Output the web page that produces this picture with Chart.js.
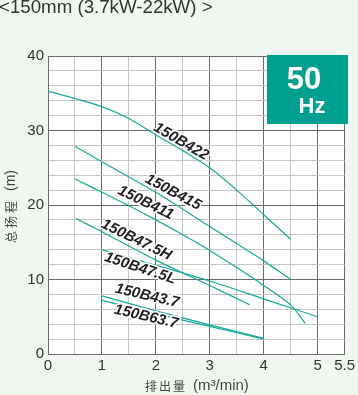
<!DOCTYPE html>
<html>
<head>
<meta charset="utf-8">
<script src="https://cdn.jsdelivr.net/npm/chart.js@4/dist/chart.umd.min.js"></script>
<style>
  html, body { margin: 0; padding: 0; background: #f1f7f0; }
  #wrap { width: 358px; height: 395px; }
</style>
</head>
<body>
<div id="wrap"><canvas id="pumpChart" width="358" height="395"></canvas></div>
<script>
// pump curves, flow (m3/min) vs total head (m)
const modelNames = ['150B422', '150B415', '150B411', '150B47.5H', '150B47.5L', '150B43.7', '150B63.7'];

const flow422 = [0, 0.5, 1, 1.5, 2, 2.5, 3, 3.5, 4, 4.5];
const head422 = [35.3, 34.3, 33.2, 31.6, 29.4, 27.3, 25.0, 22.0, 18.7, 15.4];

const flow415 = [0.5, 1, 2, 3, 4, 4.5];
const head415 = [27.9, 25.8, 21.7, 17.1, 12.5, 10.0];

const flow411 = [0.5, 1, 1.5, 2, 2.5, 3, 3.5, 4, 4.5, 4.77];
const head411 = [23.5, 21.7, 19.9, 18.0, 16.0, 13.9, 11.6, 9.2, 6.6, 4.1];

const flow475H = [0.52, 1, 2, 3, 3.74];
const head475H = [18.2, 16.4, 12.6, 9.2, 6.6];

const flow475L = [1, 2, 3, 4, 4.58, 5];
const head475L = [14.0, 11.9, 9.8, 7.4, 6.0, 5.0];

const flow437 = [1, 2, 3, 4];
const head437 = [7.8, 5.8, 3.9, 2.1];

const flow637 = [1, 2, 3, 4];
const head637 = [7.2, 5.4, 3.7, 2.0];

const xTickLabels = [0, 1, 2, 3, 4, 5, 5.5];
const yTickLabels = [0, 10, 20, 30, 40];

// where each model name sits (data coords) and its tilt in degrees
const labelX = [2.47, 2.32, 1.81, 1.64, 1.71, 1.84, 1.82];
const labelY = [28.5, 21.7, 20.3, 15.3, 11.5, 7.8, 5.0];
const labelAngle = [30, 28, 26, 26, 18, 13, 13];

const flows = [flow422, flow415, flow411, flow475H, flow475L, flow437, flow637];
const heads = [head422, head415, head411, head475H, head475L, head437, head637];

const curveColor = '#1aa99b';
const majorGrid = '#6a6a6a';
const minorGrid = '#c6c6c6';

const datasets = modelNames.map((name, i) => ({
    label: name,
    data: flows[i].map((x, j) => ({ x: x, y: heads[i][j] })),
    borderColor: curveColor,
    borderWidth: 1.2,
    pointRadius: 0,
    tension: 0.3,
    fill: false
}));

const decorPlugin = {
    id: 'decor',
    beforeDraw(chart) {
        const ctx = chart.ctx;
        const a = chart.chartArea;
        ctx.save();
        ctx.fillStyle = '#f1f7f0';
        ctx.fillRect(0, 0, chart.width, chart.height);
        ctx.fillStyle = '#ffffff';
        ctx.fillRect(a.left, a.top, a.right - a.left, a.bottom - a.top);
        ctx.restore();
    },
    afterDatasetsDraw(chart) {
        const ctx = chart.ctx;
        const xs = chart.scales.x, ys = chart.scales.y;
        const a = chart.chartArea;
        ctx.save();

        // model name labels with a white halo
        ctx.font = 'italic bold 15px "Liberation Sans", Arial, sans-serif';
        ctx.textAlign = 'center';
        ctx.textBaseline = 'middle';
        modelNames.forEach((name, i) => {
            const px = xs.getPixelForValue(labelX[i]);
            const py = ys.getPixelForValue(labelY[i]);
            ctx.save();
            ctx.translate(px, py);
            ctx.rotate(labelAngle[i] * Math.PI / 180);
            ctx.lineWidth = 3;
            ctx.strokeStyle = '#ffffff';
            ctx.lineJoin = 'round';
            ctx.strokeText(name, 0, 0);
            ctx.fillStyle = '#231f20';
            ctx.fillText(name, 0, 0);
            ctx.restore();
        });

        // 50 Hz badge
        ctx.fillStyle = '#00a091';
        ctx.fillRect(267, a.top - 1, 81, 69);
        ctx.fillStyle = '#ffffff';
        ctx.font = 'bold 31px "Liberation Sans", Arial, sans-serif';
        ctx.fillText('50', 304, 80);
        ctx.font = 'bold 22px "Liberation Sans", Arial, sans-serif';
        ctx.fillText('Hz', 312, 107);

        // heading
        ctx.fillStyle = '#333333';
        ctx.textAlign = 'left';
        ctx.textBaseline = 'alphabetic';
        ctx.font = '18.7px "Liberation Sans", Arial, sans-serif';
        ctx.fillText('<150mm (3.7kW-22kW) >', -1, 13);

        // x axis title
        ctx.fillStyle = '#444444';
        ctx.textBaseline = 'middle';
        ctx.font = '12px "Noto Sans CJK SC", sans-serif';
        ctx.letterSpacing = '2px';
        ctx.fillText('排出量', 145, 386);
        ctx.letterSpacing = '0px';
        ctx.font = '15px "Liberation Sans", Arial, sans-serif';
        ctx.fillText('(m³/min)', 193, 386);

        // y axis title
        ctx.translate(11, 243);
        ctx.rotate(-Math.PI / 2);
        ctx.font = '12px "Noto Sans CJK SC", sans-serif';
        ctx.letterSpacing = '3px';
        ctx.fillText('总扬程', 0, 0);
        ctx.letterSpacing = '0px';
        ctx.font = '14px "Liberation Sans", Arial, sans-serif';
        ctx.fillText('(m)', 52, 0);
        ctx.restore();
    }
};

new Chart(document.getElementById('pumpChart'), {
    type: 'line',
    data: { datasets: datasets },
    options: {
        responsive: false,
        animation: false,
        devicePixelRatio: 1,
        layout: { padding: { top: 56, right: 11, left: 0, bottom: 0 } },
        plugins: { legend: { display: false }, tooltip: { enabled: false } },
        scales: {
            x: {
                type: 'linear',
                min: 0,
                max: 5.5,
                afterFit(scale) { scale.height = 41; },
                ticks: {
                    stepSize: 0.5,
                    autoSkip: false,
                    maxRotation: 0,
                    padding: 3,
                    color: '#333333',
                    font: { size: 15, family: '"Liberation Sans", Arial, sans-serif' },
                    callback: v => xTickLabels.includes(v) ? String(v) : ''
                },
                grid: {
                    drawTicks: false,
                    color: c => (c.tick && (c.tick.value % 1 === 0 || c.tick.value === 5.5)) ? majorGrid : minorGrid
                },
                border: { color: majorGrid }
            },
            y: {
                min: 0,
                max: 40,
                afterFit(scale) { scale.width = 48; },
                ticks: {
                    stepSize: 2,
                    autoSkip: false,
                    padding: 4,
                    color: '#333333',
                    font: { size: 15, family: '"Liberation Sans", Arial, sans-serif' },
                    callback: v => yTickLabels.includes(v) ? String(v) : ''
                },
                grid: {
                    drawTicks: false,
                    color: c => (c.tick && c.tick.value % 10 === 0) ? majorGrid : minorGrid
                },
                border: { color: majorGrid }
            }
        }
    },
    plugins: [decorPlugin]
});
</script>
</body>
</html>
